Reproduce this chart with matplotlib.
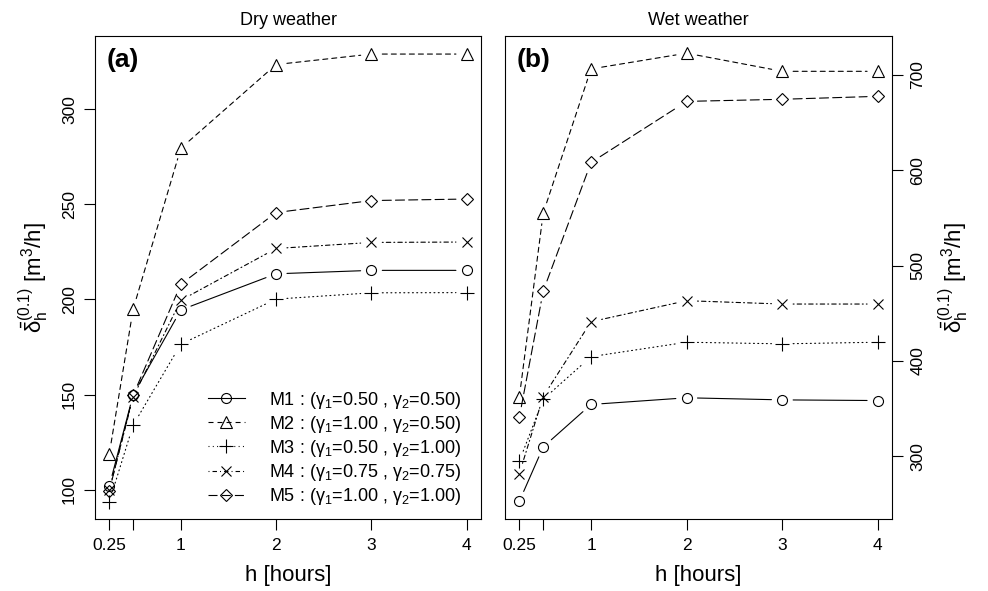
import matplotlib
matplotlib.use('Agg')
import matplotlib.pyplot as plt
from matplotlib.lines import Line2D

plt.rcParams['font.family'] = ['Liberation Sans', 'DejaVu Sans']
plt.rcParams['mathtext.fontset'] = 'custom'
plt.rcParams['mathtext.rm'] = 'Liberation Sans'
plt.rcParams['mathtext.it'] = 'Liberation Sans'
plt.rcParams['mathtext.bf'] = 'Liberation Sans:bold'
plt.rcParams['lines.scale_dashes'] = False

hours = [0.25, 0.5, 1, 2, 3, 4]
xtick_labels = ['0.25', '', '1', '2', '3', '4']

labels = [r'M1 : ($\gamma_1$=0.50 , $\gamma_2$=0.50)',
          r'M2 : ($\gamma_1$=1.00 , $\gamma_2$=0.50)',
          r'M3 : ($\gamma_1$=0.50 , $\gamma_2$=1.00)',
          r'M4 : ($\gamma_1$=0.75 , $\gamma_2$=0.75)',
          r'M5 : ($\gamma_1$=1.00 , $\gamma_2$=1.00)']

# dry weather (panel a)
dry_m1 = [102, 150, 194.5, 213.5, 215.3, 215.3]
dry_m2 = [119, 195, 279.5, 323.5, 329, 329]
dry_m3 = [93.7, 134, 176.5, 200.2, 203.5, 203.6]
dry_m4 = [100, 148.8, 199.6, 226.8, 230, 230.2]
dry_m5 = [99.5, 149.7, 208, 245.7, 252, 252.8]

# wet weather (panel b)
wet_m1 = [253, 310, 354.5, 361.5, 359.3, 358.6]
wet_m2 = [362, 555, 706, 722.5, 703.5, 703.5]
wet_m3 = [295, 360, 404.6, 419.7, 418, 419.7]
wet_m4 = [282, 362.8, 441.2, 463.2, 459.7, 459.7]
wet_m5 = [341, 473.3, 608, 672, 674.2, 677.3]

dry = [dry_m1, dry_m2, dry_m3, dry_m4, dry_m5]
wet = [wet_m1, wet_m2, wet_m3, wet_m4, wet_m5]

markers = ['o', '^', '+', 'x', 'D']
msizes = [7.2, 8.5, 10, 7.5, 6.3]
styles = ['-', (0, (3.6, 2.9)), (0, (0.7, 2.4)), (0, (0.7, 2.2, 3.2, 2.2)), (0, (6.5, 3))]

LW = 0.8
GAP = 7.8


def draw_series(ax, ys):
    for i, y in enumerate(ys):
        # lines stop short of the points, like R's type="b"
        for j in range(len(hours) - 1):
            ax.annotate('', xy=(hours[j + 1], y[j + 1]), xytext=(hours[j], y[j]),
                        arrowprops=dict(arrowstyle='-', shrinkA=GAP, shrinkB=GAP,
                                        lw=LW, linestyle=styles[i], color='k'))
        ax.plot(hours, y, linestyle='none', marker=markers[i], ms=msizes[i],
                mfc='none', mec='k', mew=LW)


fig = plt.figure(figsize=(9.88, 5.91), dpi=100)
ax1 = fig.add_axes([0.0962, 0.1218, 0.3907, 0.8173])
ax2 = fig.add_axes([0.5111, 0.1218, 0.392, 0.8173])

ylab = r'$\bar{\delta}_h^{(0.1)}$ [m$^3$/h]'

for ax, data, title, tag, yt, ylim in [
        (ax1, dry, 'Dry weather', '(a)', [100, 150, 200, 250, 300], (84.6, 338.5)),
        (ax2, wet, 'Wet weather', '(b)', [300, 400, 500, 600, 700], (234.5, 740.5))]:
    draw_series(ax, data)
    ax.set_xlim(0.1, 4.15)
    ax.set_ylim(*ylim)
    ax.set_xticks(hours)
    ax.set_xticklabels(xtick_labels)
    ax.set_yticks(yt)
    ax.set_yticklabels([str(v) for v in yt], rotation=90, va='center')
    ax.tick_params(length=8, width=LW, labelsize=12.5, pad=5)
    ax.tick_params(axis='x', pad=6)
    for s in ax.spines.values():
        s.set_linewidth(LW)
    ax.set_title(title, fontsize=13, pad=8)
    ax.set_xlabel('h [hours]', fontsize=16, labelpad=8)
    ax.set_ylabel(ylab, fontsize=16, labelpad=8)
    ax.text(0.073, 0.95, tag, transform=ax.transAxes, fontsize=19,
            fontweight='bold', ha='center', va='center')

ax2.yaxis.tick_right()
ax2.yaxis.set_label_position('right')

handles = [Line2D([0], [0], color='k', lw=LW, linestyle=styles[i], marker=markers[i],
                  ms=msizes[i], mfc='none', mec='k', mew=LW) for i in range(5)]
ax1.legend(handles, labels, loc='lower right', bbox_to_anchor=(0.947, 0.025),
           frameon=False, fontsize=13, handlelength=2.05, handletextpad=1.33,
           labelspacing=0.17, borderpad=0, borderaxespad=0)

fig.savefig('out.png', dpi=100)
